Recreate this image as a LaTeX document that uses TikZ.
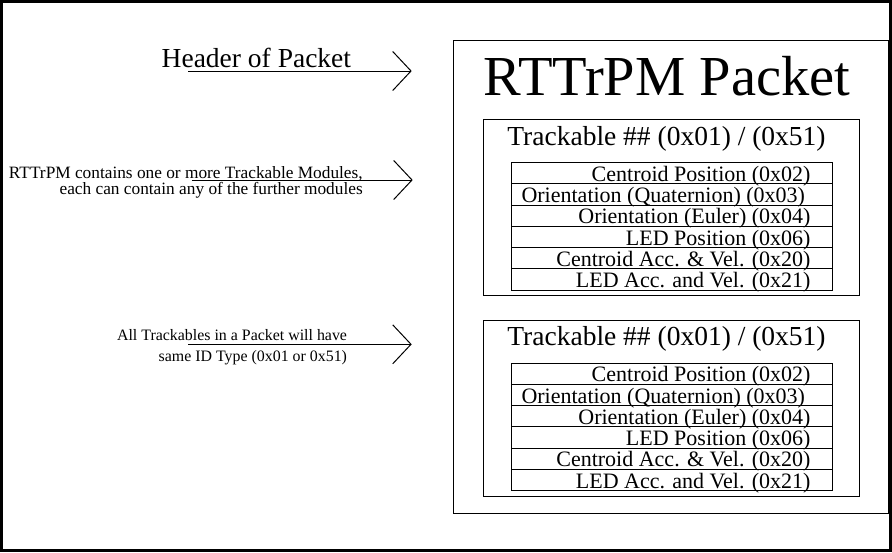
\documentclass[tikz,border=0pt]{standalone}
\usepackage{fontspec}
\setmainfont{Liberation Serif}
\usetikzlibrary{arrows.meta}
\begin{document}
\begin{tikzpicture}[x=1pt,y=-1pt,line width=1pt,
  box/.style={draw=black,line width=1pt,inner sep=0pt,outer sep=0pt,anchor=north west},
  txt/.style={inner sep=0pt,outer sep=0pt},
  rowtxt/.style={txt,anchor=base east,font=\fontsize{22}{26}\selectfont},
  pointer/.style={draw,line width=1pt,-{Straight Barb[length=18.3pt,width=39pt]}}]
\useasboundingbox (0,0) rectangle (892,552);
\draw[line width=3pt] (1.5,1.5) rectangle (890.5,550.5);
% packet box
\node[box,minimum width=435pt,minimum height=472.5pt] (packet) at (453.5,40.5) {};
\node[txt,anchor=base,font=\fontsize{56.5}{60}\selectfont] (ptitle) at (667,95.5) {RTTrPM Packet};
% trackable boxes
\foreach \k/\dy in {a/0,b/200.7}{
  \node[box,minimum width=376pt,minimum height=176pt] (track\k) at (483.5,119.5+\dy) {};
  \node[txt,anchor=base,font=\fontsize{27.5}{32}\selectfont] (ttitle\k) at (666.5,145+\dy) {Trackable \#\# (0x01) / (0x51)};
  \foreach \i in {1,...,6}{
    \node[box,minimum width=320.5pt,minimum height=21.25pt] (row\k\i) at (511.5,162.5+\dy+21.25*\i-21.25) {};
  }
  \node[rowtxt] (lab\k1) at (810.5,162.5+\dy+21.25*1-2.5) {Centroid Position (0x02)};
  \node[rowtxt] (lab\k2) at (805,162.5+\dy+21.25*2-2.5) {Orientation (Quaternion) (0x03)};
  \node[rowtxt] (lab\k3) at (810.5,162.5+\dy+21.25*3-2.5) {Orientation (Euler) (0x04)};
  \node[rowtxt] (lab\k4) at (810.5,162.5+\dy+21.25*4-2.5) {LED Position (0x06)};
  \node[rowtxt] (lab\k5) at (810.5,162.5+\dy+21.25*5-2.5) {Centroid Acc. \& Vel. (0x20)};
  \node[rowtxt] (lab\k6) at (810.5,162.5+\dy+21.25*6-2.5) {LED Acc. and Vel. (0x21)};
}
% left notes
\node[txt,anchor=base west,font=\fontsize{27.5}{32}\selectfont] (hdr) at (161.7,67.7) {Header of Packet};
\node[txt,anchor=base east,align=right,font=\fontsize{17.3}{16}\selectfont] (note2) at (362.7,194) {RTTrPM contains one or more Trackable Modules,\\each can contain any of the further modules};
\node[txt,anchor=base east,align=right,font=\fontsize{15.9}{21}\selectfont] (note3) at (347,361.7) {All Trackables in a Packet will have\\same ID Type (0x01 or 0x51)};
% arrows
\coordinate (h0) at (188.3,71);
\coordinate (h1) at (411.7,71);
\coordinate (m0) at (191.7,180);
\coordinate (m1) at (412.7,180);
\coordinate (s0) at (188.3,344.3);
\coordinate (s1) at (411.7,344.3);
\draw[pointer] (h0) -- (h1);
\draw[pointer] (m0) -- (m1);
\draw[pointer] (s0) -- (s1);
\end{tikzpicture}
\end{document}
